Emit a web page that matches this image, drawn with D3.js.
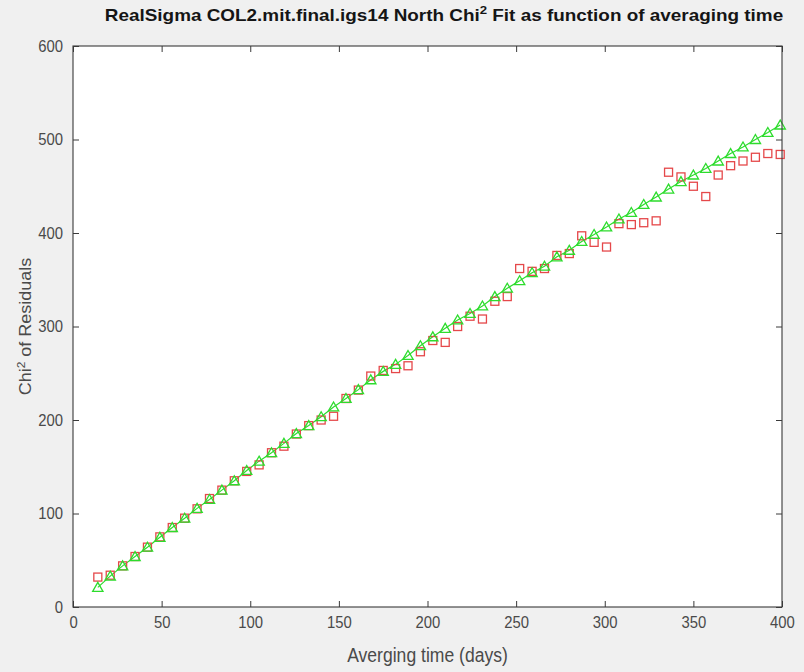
<!DOCTYPE html>
<html><head><meta charset="utf-8">
<script src="https://cdn.jsdelivr.net/npm/d3@7"></script>
<style>
html,body{margin:0;padding:0;background:#f0f0f0;}
svg{display:block;font-family:Arial,"Liberation Sans",Helvetica,sans-serif;}
</style></head>
<body><svg id="chart" width="804" height="672"></svg>
<script>
const days = [14,21,28,35,42,49,56,63,70,77,84,91,98,105,112,119,126,133,140,147,154,161,168,175,182,189,196,203,210,217,224,231,238,245,252,259,266,273,280,287,294,301,308,315,322,329,336,343,350,357,364,371,378,385,392,399];
const chiData = [32,34,44,54,64,75,85,95,105,116,125,135,145,152,165,172,185,194,200,204,223,232,247,253,255,258,273,285,283,300,311,308,327,332,362,359,362,376,378,397,390,385,410,409,411,413,465,460,450,439,462,472,477,481,485,484];
const chiFit = [21,33,44,54,64,74.5,85,95,105.5,115,125,135,146,156,165,175,185.5,194,203.5,214,223,232.5,243,252,259.5,269,279.5,289,298,307,314,322,332,341,349,357.5,364.5,374.5,381.5,391,398.5,406.5,415,422,430.5,438.5,447,455,462,469,477,485,492,500,507.5,515.5];
const xTicks = [0,50,100,150,200,250,300,350,400];
const yTicks = [0,100,200,300,400,500,600];

const svg = d3.select("#chart");
const L = 73, R = 782, T = 46, B = 607;
const x = d3.scaleLinear().domain([0,400]).range([L,R]);
const y = d3.scaleLinear().domain([0,600]).range([B,T]);
const axisCol = "#3a3a3a", textCol = "#4a4a4a";
const SX = 0.9; // horizontal squeeze of the text (as in the reference)

svg.append("rect").attr("x",L).attr("y",T).attr("width",R-L).attr("height",B-T).attr("fill","#fff");

const g = svg.append("g");
g.append("path").datum(days.map((d,i)=>[d,chiFit[i]]))
  .attr("fill","none").attr("stroke","#2ddc2d").attr("stroke-width",1.2)
  .attr("d", d3.line().x(d=>x(d[0])).y(d=>y(d[1])));
g.selectAll("rect.sq").data(days.map((d,i)=>[d,chiData[i]])).join("rect")
  .attr("class","sq").attr("x",d=>x(d[0])-4).attr("y",d=>y(d[1])-4)
  .attr("width",8).attr("height",8).attr("fill","none")
  .attr("stroke","#e5484a").attr("stroke-width",1.3);
const tri = d3.symbol().type(d3.symbolTriangle).size(46);
g.selectAll("path.tri").data(days.map((d,i)=>[d,chiFit[i]])).join("path")
  .attr("class","tri").attr("transform",d=>`translate(${x(d[0])},${y(d[1])+1})`)
  .attr("d",tri).attr("fill","none").attr("stroke","#2ddc2d").attr("stroke-width",1.3);

svg.append("rect").attr("x",L).attr("y",T).attr("width",R-L).attr("height",B-T)
  .attr("fill","none").attr("stroke",axisCol).attr("stroke-width",1.1);

const tl = 6;
const xb = svg.append("g").attr("transform",`translate(0,${B})`)
  .call(d3.axisBottom(x).tickValues(xTicks).tickSizeInner(-tl).tickSizeOuter(0).tickPadding(9));
const xt = svg.append("g").attr("transform",`translate(0,${T})`)
  .call(d3.axisTop(x).tickValues(xTicks).tickSizeInner(-tl).tickSizeOuter(0).tickFormat(""));
const yl = svg.append("g").attr("transform",`translate(${L},0)`)
  .call(d3.axisLeft(y).tickValues(yTicks).tickSizeInner(-tl).tickSizeOuter(0).tickPadding(11));
const yr = svg.append("g").attr("transform",`translate(${R},0)`)
  .call(d3.axisRight(y).tickValues(yTicks).tickSizeInner(-tl).tickSizeOuter(0).tickFormat(""));
[xb,xt,yl,yr].forEach(a=>{
  a.select(".domain").remove();
  a.selectAll(".tick line").attr("stroke",axisCol);
  a.selectAll(".tick text").attr("fill",textCol).style("font-size","16.5px")
   .style("font-family","Arial, 'Liberation Sans', sans-serif")
   .attr("transform",`scale(${SX},1)`);
});

// axis labels
svg.append("text").attr("transform",`translate(${(L+R)/2},662) scale(${SX},1)`)
  .attr("text-anchor","middle").attr("fill",textCol).style("font-size","19.5px")
  .text("Averging time (days)");
const ylab = svg.append("text").attr("transform",`translate(31,${(T+B)/2}) rotate(-90) scale(1,${SX})`)
  .attr("text-anchor","middle").attr("fill",textCol).style("font-size","18px");
ylab.append("tspan").text("Chi");
ylab.append("tspan").attr("dy",-7).style("font-size","12px").text("2");
ylab.append("tspan").attr("dy",7).text(" of Residuals");

// title
const title = svg.append("text").attr("text-anchor","middle")
  .attr("fill","#151515").style("font-weight","bold").style("font-size","16.5px");
title.append("tspan").text("RealSigma COL2.mit.final.igs14 North Chi");
title.append("tspan").attr("dy",-7).style("font-size","11.5px").text("2");
title.append("tspan").attr("dy",7).text(" Fit as function of averaging time");
const w = title.node().getBBox().width;
const sx = 679/w;
title.attr("transform",`translate(444,21) scale(${sx},1)`);
</script></body></html>
